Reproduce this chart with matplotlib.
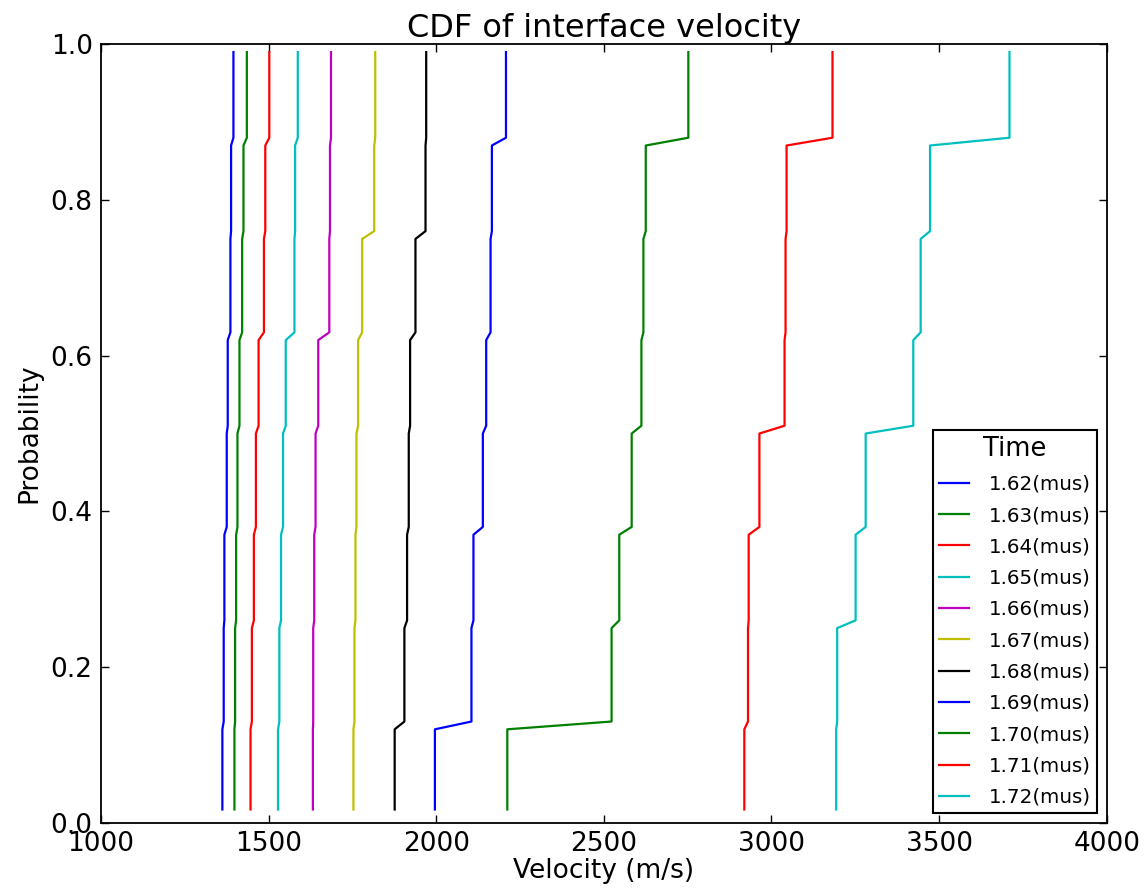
import numpy as np
import matplotlib
matplotlib.use("Agg")
import matplotlib.pyplot as plt

# ---------------------------------
# data: velocity of each plateau of the CDF (m/s)
# ---------------------------------
PROB = [0.017, 0.12, 0.13, 0.25, 0.26, 0.37, 0.38, 0.50,
        0.51, 0.62, 0.63, 0.75, 0.76, 0.87, 0.88, 0.99]

TIMES = ["1.62", "1.63", "1.64", "1.65", "1.66", "1.67",
         "1.68", "1.69", "1.70", "1.71", "1.72"]

v162 = [1362, 1366, 1368, 1375, 1378, 1386, 1388, 1395]
v163 = [1398, 1400, 1403, 1407, 1413, 1421, 1425, 1435]
v164 = [1446, 1450, 1456, 1462, 1470, 1486, 1490, 1502]
v165 = [1528, 1532, 1537, 1543, 1551, 1577, 1579, 1587]
v166 = [1632, 1633, 1636, 1640, 1648, 1681, 1683, 1686]
v167 = [1753, 1756, 1759, 1762, 1767, 1779, 1815, 1818]
v168 = [1876, 1905, 1913, 1918, 1922, 1938, 1968, 1970]
v169 = [1996, 2105, 2111, 2139, 2149, 2162, 2166, 2208]
v170 = [2212, 2523, 2546, 2583, 2612, 2618, 2625, 2752]
v171 = [2919, 2930, 2932, 2964, 3039, 3042, 3045, 3182]
v172 = [3193, 3196, 3251, 3281, 3423, 3445, 3473, 3710]

SERIES = [v162, v163, v164, v165, v166, v167, v168, v169, v170, v171, v172]
COLORS = ["b", "g", "r", "c", "m", "y", "k", "b", "g", "r", "c"]
CLASSIC = {"b": (0, 0, 1), "g": (0, 0.5, 0), "r": (1, 0, 0),
           "c": (0, 0.75, 0.75), "m": (0.75, 0, 0.75),
           "y": (0.75, 0.75, 0), "k": (0, 0, 0)}

# ---------------------------------
# plot
# ---------------------------------
plt.rcParams["font.family"] = ["DejaVu Sans"]
fig = plt.figure(figsize=(11.44, 8.9), dpi=100)
ax = fig.add_axes([0.0883, 0.0756, 0.8791, 0.8746])

for t, vals, c in zip(TIMES, SERIES, COLORS):
    x = np.repeat(vals, 2)
    ax.plot(x, PROB, color=CLASSIC[c], lw=1.6,
            solid_capstyle="projecting", label=f"{t}(mus)")

ax.set_xlim(1000, 4000)
ax.set_ylim(0, 1.0)
ax.set_xticks(np.arange(1000, 4001, 500))
ax.set_yticks(np.arange(0, 1.01, 0.2))
ax.tick_params(direction="in", top=True, right=True, length=6, width=1,
               labelsize=19, pad=6)
for s in ax.spines.values():
    s.set_linewidth(1.3)

ax.set_xlabel("Velocity (m/s)", fontsize=19, labelpad=1)
ax.set_ylabel("Probability", fontsize=19, labelpad=6)
ax.set_title("CDF of interface velocity", fontsize=23, pad=5)

leg = ax.legend(title="Time", loc="lower right", fontsize=14.3,
                title_fontsize=18.5, fancybox=False, framealpha=1,
                edgecolor="black", handlelength=1.5, handletextpad=1.0,
                borderaxespad=0.5, labelspacing=0.62, borderpad=0.3)
leg.get_frame().set_linewidth(1.5)

fig.savefig("out.png", dpi=100, facecolor="white")
